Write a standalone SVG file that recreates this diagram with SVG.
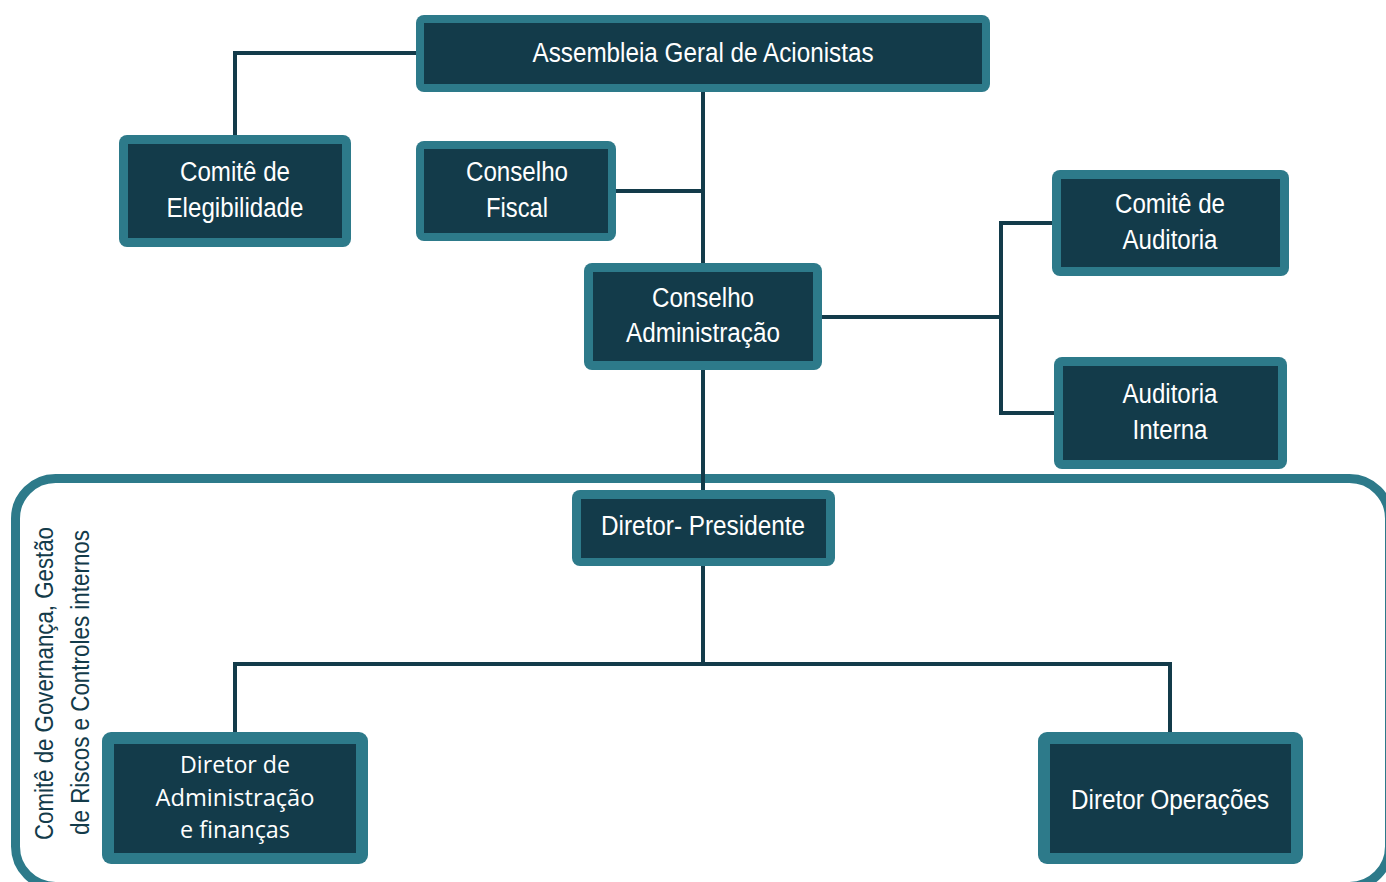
<svg xmlns="http://www.w3.org/2000/svg" width="1386" height="882" viewBox="0 0 1386 882">
<style>
.o{fill:#2d7a8a}
.i{fill:#133b4a}
.t{font-family:"Liberation Sans",Arial,sans-serif;font-size:27px;fill:#ffffff;text-anchor:middle}
.m{font-family:"Open Sans","Liberation Sans",sans-serif;font-size:24px;fill:#ffffff;text-anchor:middle}
.r{font-family:"Liberation Sans",Arial,sans-serif;font-size:25px;fill:#133b4a;text-anchor:middle}
.c{fill:none;stroke:#133b4a;stroke-width:4}
</style>
<rect width="1386" height="882" fill="#ffffff"/>
<g id="committee-frame">
<rect x="15.5" y="478.5" width="1374" height="408" rx="40" ry="40" fill="#ffffff" stroke="#2d7a8a" stroke-width="9"/>
<text class="r" transform="translate(53,683.5) rotate(-90)" textLength="313" lengthAdjust="spacingAndGlyphs">Comitê de Governança,  Gestão</text>
<text class="r" transform="translate(89,682.5) rotate(-90)" textLength="305" lengthAdjust="spacingAndGlyphs">de Riscos e Controles internos</text>
</g>
<g id="connectors">
<path class="c" d="M416,53 H235 V135"/>
<path class="c" d="M703,92 V263"/>
<path class="c" d="M616,191 H703"/>
<path class="c" d="M822,317 H1001"/>
<path class="c" d="M1052,223 H1001 V413 H1054"/>
<path class="c" d="M703,370 V490"/>
<path class="c" d="M703,566 V664"/>
<path class="c" d="M235,732 V664 H1170 V732"/>
</g>
<g id="assembleia">
<rect class="o" x="416" y="15" width="574" height="77" rx="8"/>
<rect class="i" x="424" y="23" width="558" height="61"/>
<text class="t" x="703" y="62" textLength="341" lengthAdjust="spacingAndGlyphs">Assembleia Geral de Acionistas</text>
</g>
<g id="comite-elegibilidade">
<rect class="o" x="119" y="135" width="232" height="112" rx="8"/>
<rect class="i" x="128" y="144" width="214" height="94"/>
<text class="t" x="235" y="181" textLength="110" lengthAdjust="spacingAndGlyphs">Comitê de</text>
<text class="t" x="235" y="217" textLength="137" lengthAdjust="spacingAndGlyphs">Elegibilidade</text>
</g>
<g id="conselho-fiscal">
<rect class="o" x="416" y="141" width="200" height="100" rx="8"/>
<rect class="i" x="424" y="149" width="184" height="84"/>
<text class="t" x="517" y="181" textLength="102" lengthAdjust="spacingAndGlyphs">Conselho</text>
<text class="t" x="517" y="217" textLength="62" lengthAdjust="spacingAndGlyphs">Fiscal</text>
</g>
<g id="conselho-administracao">
<rect class="o" x="584" y="263" width="238" height="107" rx="8"/>
<rect class="i" x="593" y="272" width="220" height="89"/>
<text class="t" x="703" y="307" textLength="102" lengthAdjust="spacingAndGlyphs">Conselho</text>
<text class="t" x="703" y="342" textLength="154" lengthAdjust="spacingAndGlyphs">Administração</text>
</g>
<g id="comite-auditoria">
<rect class="o" x="1052" y="170" width="237" height="106" rx="8"/>
<rect class="i" x="1061" y="179" width="219" height="88"/>
<text class="t" x="1170" y="213" textLength="110" lengthAdjust="spacingAndGlyphs">Comitê de</text>
<text class="t" x="1170" y="249" textLength="95" lengthAdjust="spacingAndGlyphs">Auditoria</text>
</g>
<g id="auditoria-interna">
<rect class="o" x="1054" y="357" width="233" height="112" rx="8"/>
<rect class="i" x="1063" y="366" width="215" height="94"/>
<text class="t" x="1170" y="403" textLength="95" lengthAdjust="spacingAndGlyphs">Auditoria</text>
<text class="t" x="1170" y="439" textLength="75" lengthAdjust="spacingAndGlyphs">Interna</text>
</g>
<g id="diretor-presidente">
<rect class="o" x="572" y="490" width="263" height="76" rx="8"/>
<rect class="i" x="581" y="499" width="245" height="59"/>
<text class="t" x="703" y="535" textLength="204" lengthAdjust="spacingAndGlyphs">Diretor- Presidente</text>
</g>
<g id="diretor-administracao">
<rect class="o" x="102" y="732" width="266" height="132" rx="9"/>
<rect class="i" x="114" y="744" width="242" height="109"/>
<text class="m" x="235" y="773" textLength="110" lengthAdjust="spacingAndGlyphs">Diretor de</text>
<text class="m" x="235" y="806" textLength="159" lengthAdjust="spacingAndGlyphs">Administração</text>
<text class="m" x="235" y="838" textLength="110" lengthAdjust="spacingAndGlyphs">e finanças</text>
</g>
<g id="diretor-operacoes">
<rect class="o" x="1038" y="732" width="265" height="132" rx="9"/>
<rect class="i" x="1050" y="744" width="241" height="109"/>
<text class="t" x="1170" y="809" textLength="198" lengthAdjust="spacingAndGlyphs">Diretor Operações</text>
</g>
</svg>
